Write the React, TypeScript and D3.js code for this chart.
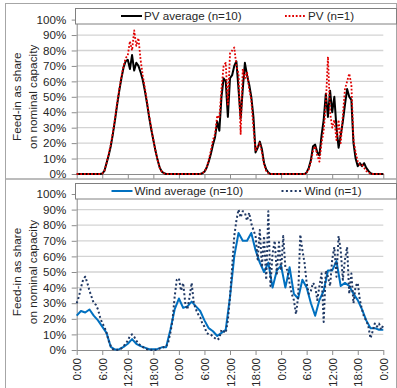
import * as d3 from "d3";
import { useEffect, useRef } from "react";

// time axis, hours over three days
const hourTicks = [0, 6, 12, 18, 24, 30, 36, 42, 48, 54, 60, 66, 72];
const timeLabels = ["0:00", "6:00", "12:00", "18:00", "0:00", "6:00", "12:00", "18:00", "0:00", "6:00", "12:00", "18:00", "0:00"];
const shareTicks = [0, 10, 20, 30, 40, 50, 60, 70, 80, 90, 100];

// PV, half-hourly values in % (rows of 6 hours)
const pvAverage = [
    0, 0, 0, 0, 0, 0, 0, 0, 0, 0, 0, 0,
    0.3, 2, 7, 12, 18, 26, 35, 45, 54, 62, 69, 73,
    74, 68, 77, 67, 72, 70, 66, 61, 54, 46, 37, 29,
    22, 15, 9, 4, 1.5, 0.5, 0, 0, 0, 0, 0, 0,
    0, 0, 0, 0, 0, 0, 0, 0, 0, 0, 0, 0.5,
    1.5, 4, 8, 13, 19, 24, 34, 28, 50, 62, 60, 37,
    62, 64, 70, 73, 55, 36, 55, 72, 64, 58, 50, 37,
    14, 17, 21, 16, 7, 3, 1, 0, 0, 0, 0, 0,
    0, 0, 0, 0, 0, 0, 0, 0, 0, 0, 0, 0,
    1, 4, 9, 18, 19, 14, 12, 25, 35, 52, 37, 54,
    40, 50, 30, 17, 25, 34, 45, 55, 50, 48, 20, 10,
    5, 7, 5, 7, 4, 2, 0.5, 0, 0, 0, 0, 0,
    0,
];

const pvSingle = [
    0, 0, 0, 0, 0, 0, 0, 0, 0, 0, 0, 0,
    0.3, 2, 7, 13, 19, 27, 36, 46, 55, 63, 70, 75,
    77, 86, 80, 93, 83, 88, 74, 64, 56, 47, 38, 30,
    22, 15, 9, 4, 1.5, 0.5, 0, 0, 0, 0, 0, 0,
    0, 0, 0, 0, 0, 0, 0, 0, 0, 0, 0, 0.5,
    1.5, 4, 9, 15, 22, 26, 38, 36, 55, 70, 72, 45,
    78, 80, 82, 70, 65, 26, 68, 62, 66, 55, 48, 30,
    15, 18, 20, 14, 6, 2, 0.5, 0, 0, 0, 0, 0,
    0, 0, 0, 0, 0, 0, 0, 0, 0, 0, 0, 0,
    1, 3, 8, 15, 18, 12, 8, 20, 28, 45, 76, 40,
    30, 35, 22, 35, 20, 38, 55, 60, 65, 58, 22, 14,
    8, 6, 6, 4, 2, 1, 0, 0, 0, 0, 0, 0,
    0,
];

// Wind average, hourly values in %
const windAverage = [
    22, 25, 24, 26, 22, 19,
    15, 11, 2, 0.3, 0.5, 2,
    4, 7, 4, 2.5, 1.5, 0.5,
    0.5, 0.7, 1.7, 1.7, 13, 26,
    33, 27, 28, 31, 28, 25,
    19, 14, 12, 9, 11, 13,
    34, 60, 75, 70, 70, 75,
    64, 56, 50, 56, 40, 51,
    54, 40, 53, 36, 33, 45,
    40, 30, 22, 32, 38, 51,
    51, 57, 41, 43, 41, 36,
    32, 26, 19, 14, 14, 13,
    13,
];

// Wind single site, half-hourly values in %
const windSingle = [
    30, 34, 40, 45, 47, 43, 38, 34, 30, 29, 26, 21,
    17, 15, 11, 6, 2.5, 0.5, 0, 0, 0.5, 1, 2.5, 4,
    6, 9, 10, 8.5, 6, 4, 3, 2, 1, 0.5, 0, 0,
    0.5, 0, 0.5, 1, 1, 2, 2, 5, 11, 19, 34, 45,
    46, 38, 43, 30, 26, 34, 43, 30, 26, 23, 21, 17,
    15, 11, 10, 10, 8.5, 7.5, 6.5, 7.5, 13, 12, 11, 19,
    34, 53, 73, 83, 90, 85, 89, 88, 83, 88, 81, 77,
    73, 58, 77, 53, 73, 45, 89, 41, 62, 70, 49, 69,
    51, 73, 53, 51, 43, 36, 32, 23, 34, 74, 64, 56,
    43, 36, 38, 43, 41, 32, 41, 49, 18, 51, 47, 41,
    58, 66, 47, 73, 64, 45, 58, 66, 36, 49, 30, 41,
    43, 32, 26, 21, 19, 15, 7.5, 12, 17, 15, 17, 13,
    16,
];

const FONT = "'Liberation Sans', Arial, sans-serif";
const TEXT = "#262626";

type SeriesDef = {
    values: number[];
    step: number;
    label: string;
    color: string;
    width: number;
    dash: string | null;
};

type PanelDef = {
    y0: number;
    y100: number;
    frameTop: number;
    frameBottom: number;
    legendTop: number;
    legendX: [number, number];
    series: SeriesDef[];
    showTimeLabels: boolean;
};

const plotLeft = 76.7;
const plotRight = 383.3;

function drawPanel(
    root: d3.Selection<SVGGElement, unknown, null, undefined>,
    panel: PanelDef
) {
    const x = d3.scaleLinear().domain([0, 72]).range([plotLeft, plotRight]);
    const y = d3.scaleLinear().domain([0, 100]).range([panel.y0, panel.y100]);
    const g = root.append("g");

    // Frame
    g.append("rect")
        .attr("x", 5.5)
        .attr("y", panel.frameTop)
        .attr("width", 391)
        .attr("height", panel.frameBottom - panel.frameTop)
        .attr("fill", "none")
        .attr("stroke", "#a6a6a6");

    // Grid lines
    g.append("g")
        .selectAll("line")
        .data(shareTicks.slice(1))
        .join("line")
        .attr("x1", plotLeft)
        .attr("x2", plotRight)
        .attr("y1", (d) => y(d))
        .attr("y2", (d) => y(d))
        .attr("stroke", "#d3d3d3")
        .attr("stroke-width", 1.3);

    // Y axis
    const yAxis = g
        .append("g")
        .attr("transform", `translate(${plotLeft},0)`)
        .call(
            d3
                .axisLeft(y)
                .tickValues(shareTicks)
                .tickFormat((d) => `${d}%`)
                .tickSize(5)
                .tickSizeOuter(0)
                .tickPadding(5.5)
        );
    yAxis.selectAll("path, line").attr("stroke", "#8c8c8c");
    yAxis
        .selectAll("text")
        .attr("font-family", FONT)
        .attr("font-size", 11.6)
        .attr("fill", TEXT);

    // X axis
    const xAxis = g
        .append("g")
        .attr("transform", `translate(0,${panel.y0})`)
        .call(
            d3
                .axisBottom(x)
                .tickValues(hourTicks)
                .tickFormat((_d, i) => (panel.showTimeLabels ? timeLabels[i] : ""))
                .tickSize(5)
                .tickSizeOuter(0)
        );
    xAxis.selectAll("path, line").attr("stroke", "#8c8c8c");
    xAxis
        .selectAll("text")
        .attr("font-family", FONT)
        .attr("font-size", 11.6)
        .attr("fill", TEXT)
        .attr("transform", "rotate(-90)")
        .attr("text-anchor", "end")
        .attr("x", -8)
        .attr("y", 0)
        .attr("dy", "0.35em");

    // Series lines
    panel.series.forEach((s) => {
        const line = d3
            .line<number>()
            .x((_d, i) => x(i * s.step))
            .y((d) => y(d));
        g.append("path")
            .datum(s.values)
            .attr("d", line)
            .attr("fill", "none")
            .attr("stroke", s.color)
            .attr("stroke-width", s.width)
            .attr("stroke-dasharray", s.dash)
            .attr("stroke-linejoin", "round");
    });

    // Y title
    const cy = (panel.y0 + panel.y100) / 2;
    ["Feed-in as share", "on nominal capacity"].forEach((t, i) => {
        g.append("text")
            .attr("transform", `translate(${21 + i * 16},${cy}) rotate(-90)`)
            .attr("text-anchor", "middle")
            .attr("font-family", FONT)
            .attr("font-size", 11.8)
            .attr("fill", TEXT)
            .text(t);
    });

    // Legend
    const ly = panel.legendTop + 7.5;
    g.append("rect")
        .attr("x", 75.5)
        .attr("y", panel.legendTop)
        .attr("width", 321)
        .attr("height", 15.5)
        .attr("fill", "#fff")
        .attr("stroke", "#808080");

    panel.series.forEach((s, i) => {
        const lx = panel.legendX[i];
        g.append("line")
            .attr("x1", lx)
            .attr("x2", lx + 21)
            .attr("y1", ly)
            .attr("y2", ly)
            .attr("stroke", s.color)
            .attr("stroke-width", s.width)
            .attr("stroke-dasharray", s.dash);
        g.append("text")
            .attr("x", lx + 23)
            .attr("y", ly)
            .attr("dy", "0.35em")
            .attr("font-family", FONT)
            .attr("font-size", 11.6)
            .attr("fill", TEXT)
            .text(s.label);
    });
}

function drawChart(svgElement: SVGSVGElement) {
    const svg = d3.select(svgElement);
    svg.selectAll("*").remove();
    const root = svg.append("g");

    root.append("rect").attr("width", 397).attr("height", 388).attr("fill", "#fff");

    drawPanel(root, {
        y0: 174,
        y100: 19.6,
        frameTop: 3.5,
        frameBottom: 179,
        legendTop: 8.5,
        legendX: [121, 285],
        showTimeLabels: false,
        series: [
            { values: pvAverage, step: 0.5, label: "PV average (n=10)", color: "#000000", width: 2, dash: null },
            { values: pvSingle, step: 0.5, label: "PV (n=1)", color: "#e00000", width: 1.8, dash: "1.8 1.8" },
        ],
    });

    drawPanel(root, {
        y0: 350,
        y100: 194,
        frameTop: 179,
        frameBottom: 394,
        legendTop: 183.5,
        legendX: [111.5, 281.5],
        showTimeLabels: true,
        series: [
            { values: windAverage, step: 1, label: "Wind average (n=10)", color: "#0070c0", width: 2, dash: null },
            { values: windSingle, step: 0.5, label: "Wind (n=1)", color: "#1f3864", width: 2, dash: "2 2.4" },
        ],
    });
}

export default function App() {
    const ref = useRef<SVGSVGElement | null>(null);

    useEffect(() => {
        if (ref.current) drawChart(ref.current);
    }, []);

    return (
        <svg
            ref={ref}
            width={397}
            height={388}
            style={{ position: "absolute", left: 0, top: 0, display: "block" }}
        />
    );
}
